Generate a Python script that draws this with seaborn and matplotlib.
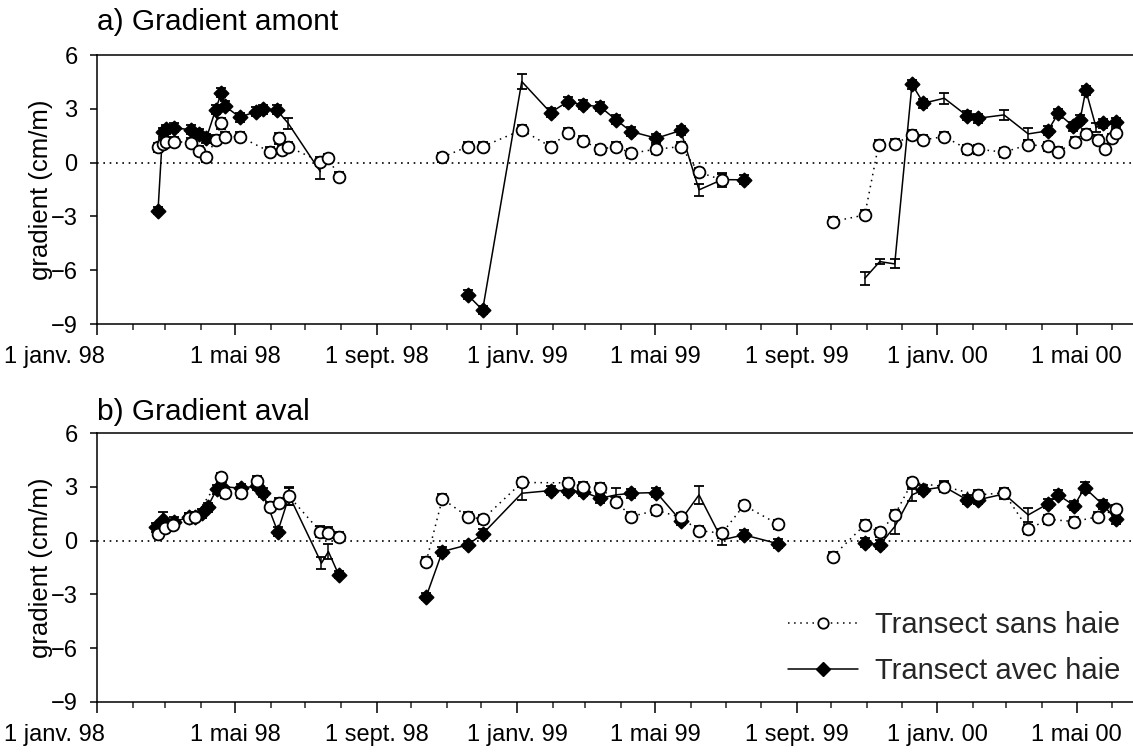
import matplotlib
matplotlib.use("Agg")
import matplotlib.pyplot as plt
import matplotlib.dates as mdates
import matplotlib.transforms as mtransforms
from matplotlib.lines import Line2D
import pandas as pd
import seaborn as sns

# ---------------- data ----------------
# a) upstream gradient, transect without hedge
a_sans_dates = [
    "1998-02-23", "1998-02-27", "1998-03-02", "1998-03-09", "1998-03-24", "1998-03-31",
    "1998-04-06", "1998-04-14", "1998-04-19", "1998-04-22", "1998-05-05", "1998-05-31",
    "1998-06-08", "1998-06-11", "1998-06-16", "1998-07-14", "1998-07-21", "1998-07-30",
    "1998-10-28", "1998-11-19", "1998-12-02", "1999-01-05", "1999-01-30", "1999-02-14",
    "1999-02-27", "1999-03-14", "1999-03-28", "1999-04-10", "1999-05-02", "1999-05-23",
    "1999-06-08", "1999-06-28",
    "1999-10-02", "1999-10-30", "1999-11-11", "1999-11-25", "1999-12-10", "1999-12-20",
    "2000-01-07", "2000-01-27", "2000-02-05", "2000-02-28", "2000-03-20", "2000-04-06",
    "2000-04-15", "2000-04-30", "2000-05-09", "2000-05-20", "2000-05-26", "2000-06-01",
    "2000-06-04",
]
a_sans_vals = [
    0.85, 1.05, 1.15, 1.17, 1.12, 0.67, 0.30, 1.27, 2.20, 1.45, 1.45, 0.61,
    1.36, 0.71, 0.89, 0.06, 0.25, -0.78,
    0.30, 0.89, 0.89, 1.82, 0.89, 1.67, 1.21, 0.75, 0.89, 0.52, 0.75, 0.89,
    -0.54, -0.96,
    -3.29, -2.92, 0.99, 1.04, 1.54, 1.27, 1.45, 0.75, 0.75, 0.58, 1.00, 0.91,
    0.61, 1.17, 1.62, 1.27, 0.78, 1.36, 1.64,
]
a_sans_err = [
    0.25, 0.25, 0.25, 0.25, 0.25, 0.25, 0.25, 0.25, 0.30, 0.25, 0.25, 0.25,
    0.30, 0.25, 0.25, 0.25, 0.25, 0.25,
    0.25, 0.25, 0.25, 0.25, 0.25, 0.25, 0.25, 0.25, 0.25, 0.25, 0.25, 0.25,
    0.25, 0.40,
    0.25, 0.25, 0.25, 0.25, 0.25, 0.25, 0.25, 0.25, 0.25, 0.25, 0.25, 0.25,
    0.25, 0.25, 0.25, 0.25, 0.25, 0.25, 0.25,
]
a_sans_nomarker = []

# a) upstream gradient, transect with hedge
a_avec_dates = [
    "1998-02-23", "1998-02-27", "1998-03-02", "1998-03-09", "1998-03-24", "1998-03-31",
    "1998-04-06", "1998-04-14", "1998-04-19", "1998-04-22", "1998-05-05", "1998-05-19",
    "1998-05-25", "1998-06-06", "1998-06-16", "1998-07-14",
    "1998-11-19", "1998-12-02", "1999-01-05", "1999-01-30", "1999-02-14", "1999-02-27",
    "1999-03-14", "1999-03-28", "1999-04-10", "1999-05-02", "1999-05-23", "1999-06-08",
    "1999-06-28", "1999-07-17",
    "1999-10-30", "1999-11-12", "1999-11-25", "1999-12-10", "1999-12-20", "2000-01-07",
    "2000-01-27", "2000-02-05", "2000-02-28", "2000-03-20", "2000-04-06", "2000-04-15",
    "2000-04-28", "2000-05-04", "2000-05-09", "2000-05-18", "2000-05-24", "2000-06-04",
]
a_avec_vals = [
    -2.68, 1.70, 1.85, 1.95, 1.82, 1.60, 1.36, 2.94, 3.90, 3.16, 2.53, 2.84,
    2.98, 2.94, 2.20, -0.50,
    -7.38, -8.22, 4.52, 2.79, 3.40, 3.22, 3.12, 2.38, 1.73, 1.36, 1.79, -1.52,
    -0.95, -0.96,
    -6.45, -5.52, -5.65, 4.37, 3.31, 3.59, 2.60, 2.47, 2.66, 1.60, 1.77, 2.74,
    2.03, 2.38, 4.04, 1.95, 2.20, 2.25,
]
a_avec_err = [
    0.20, 0.25, 0.25, 0.25, 0.25, 0.25, 0.25, 0.25, 0.25, 0.25, 0.25, 0.25,
    0.25, 0.25, 0.30, 0.40,
    0.25, 0.25, 0.40, 0.25, 0.25, 0.25, 0.25, 0.25, 0.25, 0.25, 0.25, 0.35,
    0.30, 0.25,
    0.37, 0.15, 0.25, 0.25, 0.25, 0.30, 0.25, 0.25, 0.30, 0.35, 0.25, 0.25,
    0.25, 0.25, 0.25, 0.25, 0.25, 0.25,
]
a_avec_nomarker = [
    "1998-06-16", "1998-07-14", "1999-01-05", "1999-06-08", "1999-06-28",
    "1999-10-30", "1999-11-12", "1999-11-25", "2000-01-07", "2000-02-28",
    "2000-03-20", "2000-05-18",
]

# b) downstream gradient, transect without hedge
b_sans_dates = [
    "1998-02-23", "1998-03-01", "1998-03-08", "1998-03-22", "1998-03-27", "1998-04-19",
    "1998-04-22", "1998-05-06", "1998-05-20", "1998-05-31", "1998-06-08", "1998-06-17",
    "1998-07-14", "1998-07-21", "1998-07-30",
    "1998-10-14", "1998-10-28", "1998-11-19", "1998-12-02", "1999-01-05", "1999-02-14",
    "1999-02-27", "1999-03-14", "1999-03-28", "1999-04-10", "1999-05-02", "1999-05-23",
    "1999-06-08", "1999-06-28", "1999-07-17", "1999-08-16",
    "1999-10-02", "1999-10-30", "1999-11-12", "1999-11-25", "1999-12-10", "2000-01-07",
    "2000-02-05", "2000-02-28", "2000-03-20", "2000-04-06", "2000-04-29", "2000-05-20",
    "2000-06-04",
]
b_sans_vals = [
    0.37, 0.69, 0.88, 1.28, 1.32, 3.54, 2.64, 2.64, 3.33, 1.88, 2.10, 2.46,
    0.50, 0.45, 0.22,
    -1.17, 2.33, 1.34, 1.19, 3.24, 3.22, 3.01, 2.95, 2.18, 1.34, 1.69, 1.30,
    0.56, 0.41, 1.97, 0.90,
    -0.89, 0.88, 0.47, 1.43, 3.24, 3.01, 2.55, 2.66, 0.62, 1.19, 1.06, 1.34,
    1.75,
]
b_sans_err = [
    0.25, 0.25, 0.25, 0.25, 0.25, 0.25, 0.25, 0.25, 0.25, 0.25, 0.25, 0.50,
    0.30, 0.30, 0.25,
    0.25, 0.25, 0.25, 0.25, 0.25, 0.25, 0.25, 0.25, 0.25, 0.25, 0.25, 0.25,
    0.25, 0.25, 0.25, 0.25,
    0.25, 0.25, 0.25, 0.25, 0.25, 0.25, 0.25, 0.25, 0.25, 0.25, 0.25, 0.25,
    0.25,
]
b_sans_nomarker = []

# b) downstream gradient, transect with hedge
b_avec_dates = [
    "1998-02-21", "1998-02-27", "1998-03-03", "1998-03-09", "1998-03-22", "1998-03-27",
    "1998-04-02", "1998-04-07", "1998-04-15", "1998-04-20", "1998-05-06", "1998-05-20",
    "1998-05-25", "1998-06-07", "1998-06-17", "1998-07-15", "1998-07-21", "1998-07-30",
    "1998-10-14", "1998-10-28", "1998-11-19", "1998-12-02", "1999-01-05", "1999-01-30",
    "1999-02-14", "1999-02-27", "1999-03-14", "1999-03-28", "1999-04-10", "1999-05-02",
    "1999-05-23", "1999-06-08", "1999-06-28", "1999-07-17", "1999-08-16",
    "1999-10-30", "1999-11-12", "1999-11-25", "1999-12-10", "1999-12-20", "2000-01-07",
    "2000-01-27", "2000-02-05", "2000-02-28", "2000-03-20", "2000-04-06", "2000-04-15",
    "2000-04-29", "2000-05-08", "2000-05-24", "2000-06-04",
]
b_avec_vals = [
    0.75, 1.15, 0.82, 1.06, 1.30, 1.34, 1.53, 1.86, 2.87, 3.01, 2.92, 3.05,
    2.68, 0.50, 2.50, -1.26, -0.61, -1.91,
    -3.12, -0.61, -0.24, 0.37, 2.64, 2.79, 2.79, 2.73, 2.36, 2.55, 2.64, 2.68,
    1.12, 2.55, 0.04, 0.32, -0.18,
    -0.11, -0.24, 0.78, 2.55, 2.83, 3.00, 2.27, 2.27, 2.60, 1.43, 2.05, 2.55,
    1.95, 2.95, 1.99, 1.20,
]
b_avec_err = [
    0.25, 0.45, 0.25, 0.25, 0.25, 0.25, 0.25, 0.25, 0.25, 0.25, 0.25, 0.25,
    0.25, 0.25, 0.50, 0.35, 0.40, 0.20,
    0.20, 0.25, 0.20, 0.25, 0.35, 0.25, 0.25, 0.25, 0.25, 0.40, 0.25, 0.25,
    0.25, 0.50, 0.30, 0.25, 0.25,
    0.25, 0.25, 0.40, 0.35, 0.25, 0.30, 0.25, 0.25, 0.30, 0.40, 0.25, 0.25,
    0.25, 0.30, 0.25, 0.25,
]
b_avec_nomarker = [
    "1998-06-17", "1998-07-15", "1998-07-21", "1999-01-05", "1999-03-28",
    "1999-06-08", "1999-06-28", "1999-11-25", "1999-12-10", "2000-01-07",
    "2000-02-28", "2000-03-20",
]

panel_titles = ["a) Gradient amont", "b) Gradient aval"]
series_labels = ["Transect sans haie", "Transect avec haie"]
y_ticks = [-9, -6, -3, 0, 3, 6]
x_tick_dates = ["1998-01-01", "1998-05-01", "1998-09-01", "1999-01-01",
                "1999-05-01", "1999-09-01", "2000-01-01", "2000-05-01"]
x_tick_labels = ["1 janv. 98", "1 mai 98", "1 sept. 98", "1 janv. 99",
                 "1 mai 99", "1 sept. 99", "1 janv. 00", "1 mai 00"]
x_range = ["1998-01-01", "2000-06-19"]

# ---------------- style ----------------
sns.set_theme(style="ticks")
plt.rcParams["font.family"] = ["Liberation Sans", "DejaVu Sans"]
plt.rcParams["axes.linewidth"] = 1.1

DOT = (0, (1, 3.0))
STYLES = {
    "sans": dict(ls=DOT, marker="o", face="white", size=72, zl=5),
    "avec": dict(ls="-", marker="D", face="black", size=52, zl=3),
}


def frame(dates, vals, errs, nomarker):
    df = pd.DataFrame({"date": pd.to_datetime(dates), "v": vals, "e": errs})
    # one continuous line per measurement season
    df["season"] = (df["date"].diff().dt.days > 40).cumsum()
    df["mark"] = ~df["date"].isin(pd.to_datetime(nomarker))
    return df


def draw_series(ax, df, kind):
    st = STYLES[kind]
    sns.lineplot(data=df, x="date", y="v", units="season", estimator=None,
                 sort=False, color="black", linewidth=1.1, linestyle=st["ls"],
                 ax=ax, legend=False, zorder=st["zl"] - 1)
    ax.errorbar(df["date"], df["v"], yerr=df["e"], fmt="none", ecolor="black",
                elinewidth=1.1, capsize=3.8, capthick=1.3, zorder=st["zl"])
    sns.scatterplot(data=df[df["mark"]], x="date", y="v", marker=st["marker"],
                    s=st["size"], color=st["face"], edgecolor="black",
                    linewidth=1.3, ax=ax, legend=False, zorder=st["zl"] + 1)


fig = plt.figure(figsize=(11.33, 7.53), dpi=100)
ax_a = fig.add_axes([97 / 1133, 1 - 324 / 753, 1 - 97 / 1133, 269 / 753])
ax_b = fig.add_axes([97 / 1133, 1 - 702 / 753, 1 - 97 / 1133, 269 / 753])

panels = [
    (ax_a, frame(a_sans_dates, a_sans_vals, a_sans_err, a_sans_nomarker),
     frame(a_avec_dates, a_avec_vals, a_avec_err, a_avec_nomarker)),
    (ax_b, frame(b_sans_dates, b_sans_vals, b_sans_err, b_sans_nomarker),
     frame(b_avec_dates, b_avec_vals, b_avec_err, b_avec_nomarker)),
]

# the first date label sits just inside the left edge of the figure
first_shift = mtransforms.ScaledTranslation(8 / 100, 0, fig.dpi_scale_trans)

for (ax, df_sans, df_avec), title, ty in zip(panels, panel_titles, [22, 412]):
    ax.axhline(0, color="black", linewidth=1.2, linestyle=(0, (1, 2.8)), zorder=1)
    draw_series(ax, df_avec, "avec")
    draw_series(ax, df_sans, "sans")

    ax.set_ylim(-9, 6)
    ax.set_yticks(y_ticks)
    ax.set_xlim(pd.to_datetime(x_range[0]), pd.to_datetime(x_range[1]))
    ax.set_xticks(pd.to_datetime(x_tick_dates))
    ax.set_xticklabels(x_tick_labels)
    ax.xaxis.set_minor_locator(mdates.MonthLocator())
    ax.tick_params(axis="y", direction="out", length=5, width=1.1,
                   labelsize=17, pad=9, colors="black")
    ax.tick_params(axis="x", which="major", direction="out", length=8,
                   width=1.1, labelsize=17, pad=8, colors="black")
    ax.tick_params(axis="x", which="minor", direction="out", length=4,
                   width=1.1)
    first = ax.get_xticklabels()[0]
    first.set_horizontalalignment("right")
    first.set_transform(first.get_transform() + first_shift)
    for sp in ["left", "bottom", "top"]:
        ax.spines[sp].set_color("black")
        ax.spines[sp].set_linewidth(1.1)
    ax.spines["right"].set_visible(False)
    ax.set_xlabel("")
    ax.set_ylabel("gradient (cm/m)", fontsize=18.5, color="black", labelpad=-2)
    ax.set_facecolor("white")
    fig.text(97 / 1133, 1 - ty / 753, title, fontsize=21.5, ha="left",
             va="center", color="black")

handles = [
    Line2D([], [], color="black", linewidth=1.1, linestyle=DOT, marker="o",
           markersize=7.5, markerfacecolor="white", markeredgecolor="black",
           markeredgewidth=1.3),
    Line2D([], [], color="black", linewidth=1.1, linestyle="-", marker="D",
           markersize=6.8, markerfacecolor="black", markeredgecolor="black"),
]
ax_b.legend(handles, series_labels, loc="lower right",
            bbox_to_anchor=(0.988, 0.062), frameon=False, fontsize=21,
            handlelength=2.4, handletextpad=0.6, labelspacing=0.62,
            borderpad=0, borderaxespad=0)

fig.savefig("out.png", dpi=100, facecolor="white")
